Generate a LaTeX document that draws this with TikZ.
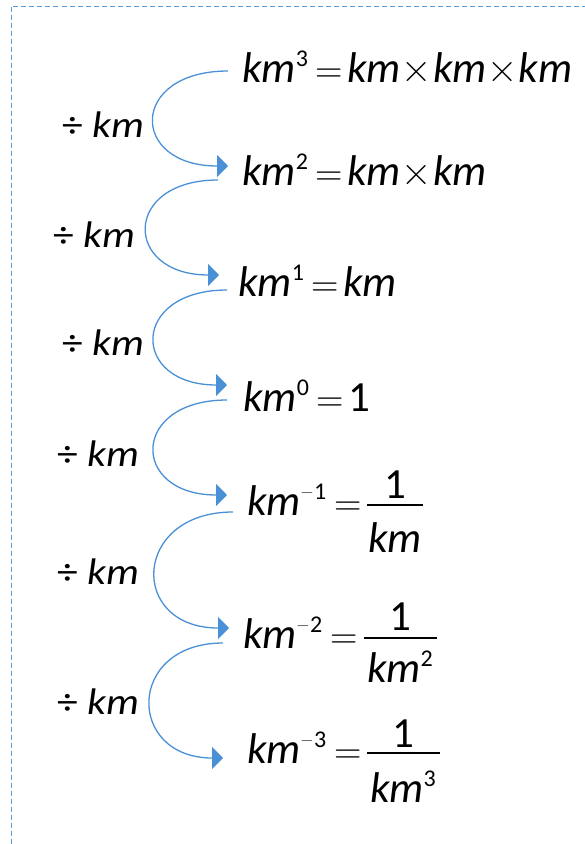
\documentclass[tikz,border=0pt]{standalone}
\usepackage{fontspec}
\setmainfont{Carlito}
\newfontfamily\lmr{Latin Modern Roman}
\newfontfamily\lblfont[FakeStretch=1.12]{Carlito}
\usetikzlibrary{arrows.meta}
\definecolor{arrowblue}{RGB}{74,144,214}
\definecolor{borderblue}{RGB}{91,155,213}
\newcommand\km{\textit{km}}
\newcommand\sps[1]{\raisebox{16pt}{\fontsize{24}{24}\selectfont #1}}
\newcommand\mns{\raisebox{2pt}{\lmr\fontsize{17}{17}\selectfont −}\hspace{1pt}}
\newcommand\opeq{\hspace{8pt}{\lmr\fontsize{38}{40}\selectfont =}\hspace{4pt}}
\newcommand\optimes{\hspace{1pt}{\lmr\fontsize{42}{44}\selectfont ×}\hspace{1pt}}
\tikzset{
  eq/.style={anchor=base west, inner sep=0pt, font=\fontsize{43}{50}\selectfont},
  lbl/.style={anchor=base west, inner sep=0pt, font=\lblfont\fontsize{37}{40}\selectfont},
  curvearrow/.style={draw=arrowblue, line width=1.3pt, -{Triangle[length=11pt,width=22pt]}},
  border/.style={draw=borderblue, line width=0.9pt, dash pattern=on 5pt off 3pt},
  fracbar/.style={line width=1.3pt}
}
\begin{document}
\begin{tikzpicture}[x=1pt,y=-1pt]
\useasboundingbox (0,0) rectangle (585,844);
\draw[border] (11.5,844) -- (11.5,6) -- (585,6);
% equations
\node[eq] (e1) at (242,82) {\km\sps{3}\opeq\km\optimes\km\optimes\km};
\node[eq] (e2) at (242,185) {\km\sps{2}\opeq\km\optimes\km};
\node[eq] (e3) at (238,296) {\km\sps{1}\opeq\km};
\node[eq] (e4) at (243,411) {\km\sps{0}\opeq 1};
\node[eq] (e5) at (247,515) {\km\sps{\mns1}\opeq};
\draw[fracbar] (367,505) -- (423,505);
\node[eq, anchor=base] (n5) at (395,498) {1};
\node[eq, anchor=base] (d5) at (395,552) {\km};
\node[eq] (e6) at (243,648) {\km\sps{\mns2}\opeq};
\draw[fracbar] (364,638) -- (437,638);
\node[eq, anchor=base] (n6) at (400,630) {1};
\node[eq, anchor=base] (d6) at (400,682) {\km\sps{2}};
\node[eq] (e7) at (247,763) {\km\sps{\mns3}\opeq};
\draw[fracbar] (367,753) -- (440,753);
\node[eq, anchor=base] (n7) at (403,747) {1};
\node[eq, anchor=base] (d7) at (403,802) {\km\sps{3}};
% labels
\node[lbl] (l1) at (62,137) {÷ \textit{km}};
\node[lbl] (l2) at (53,247) {÷ \textit{km}};
\node[lbl] (l3) at (62,355) {÷ \textit{km}};
\node[lbl] (l4) at (57,466) {÷ \textit{km}};
\node[lbl] (l5) at (57,584) {÷ \textit{km}};
\node[lbl] (l6) at (57,714) {÷ \textit{km}};
% arrows
\coordinate (s1) at (228,71);  \coordinate (t1) at (228,166);
\coordinate (s2) at (218,180); \coordinate (t2) at (219,275);
\coordinate (s3) at (227,290); \coordinate (t3) at (227,385);
\coordinate (s4) at (227,400); \coordinate (t4) at (227,495);
\coordinate (s5) at (233,512); \coordinate (t5) at (229,628);
\coordinate (s6) at (223,643); \coordinate (t6) at (223,758);
\draw[curvearrow] (s1) .. controls +(-99,0) and +(-99,0) .. (t1);
\draw[curvearrow] (s2) .. controls +(-96,0) and +(-96,0) .. (t2);
\draw[curvearrow] (s3) .. controls +(-97,0) and +(-97,0) .. (t3);
\draw[curvearrow] (s4) .. controls +(-97,0) and +(-97,0) .. (t4);
\draw[curvearrow] (s5) .. controls +(-101,0) and +(-101,0) .. (t5);
\draw[curvearrow] (s6) .. controls +(-97,0) and +(-97,0) .. (t6);
\end{tikzpicture}
\end{document}
